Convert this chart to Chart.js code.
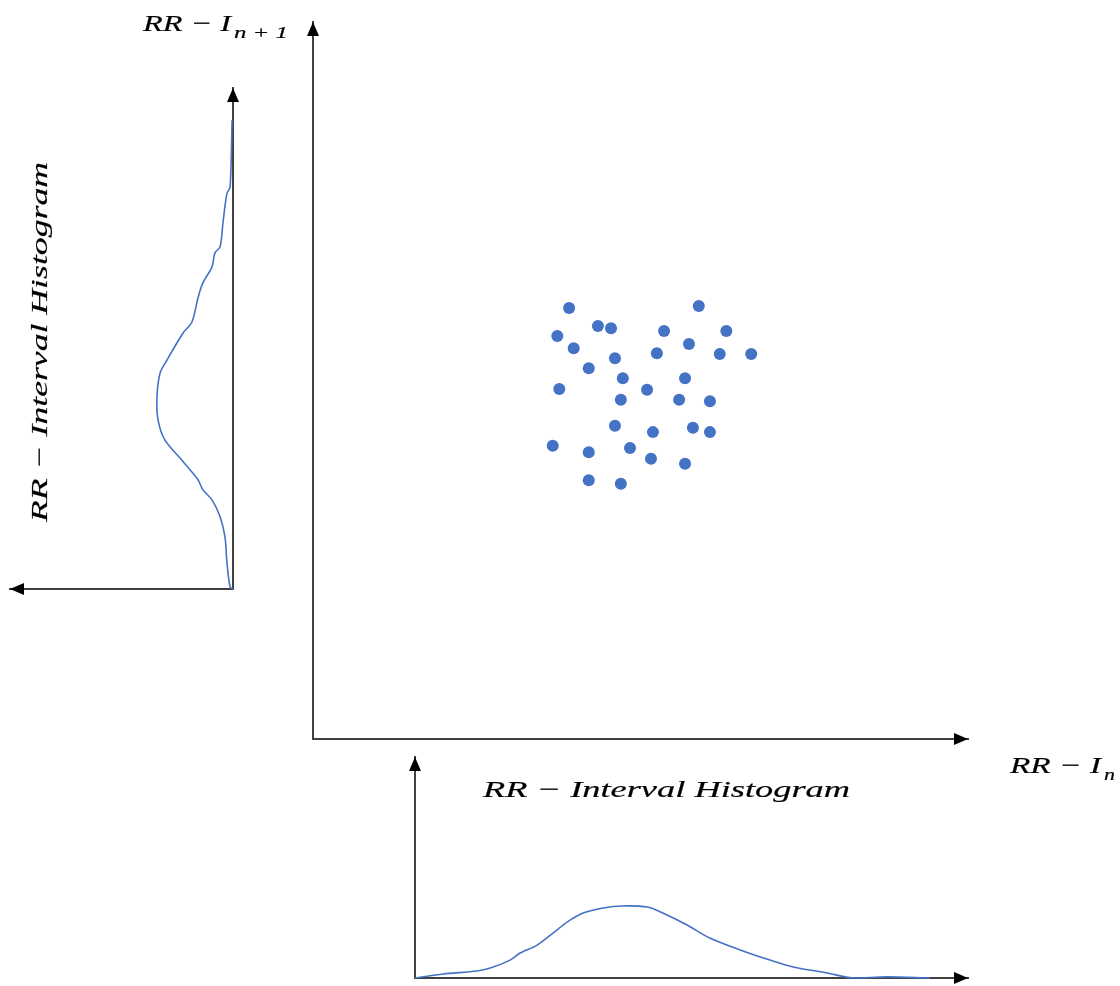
<!DOCTYPE html>
<html>
<head>
<meta charset="utf-8">
<title>RR interval Poincare plot</title>
<script src="https://cdn.jsdelivr.net/npm/chart.js@4.4.1/dist/chart.umd.min.js"></script>
<style>
  html, body { margin: 0; padding: 0; background: #fff; }
  #wrap { position: relative; width: 1120px; height: 986px; }
  #wrap canvas { position: absolute; left: 0; top: 0; }
</style>
</head>
<body>
<div id="wrap">
  <canvas id="scatterChart" width="1120" height="986"></canvas>
  <canvas id="bottomHist" width="1120" height="986"></canvas>
  <canvas id="leftHist" width="1120" height="986"></canvas>
</div>
<script>
// Poincare plot: RR(n) on x, RR(n+1) on y (arbitrary units, 0-100)
const rrN  = [39.1, 58.9, 43.5, 45.5, 53.6, 63.1, 37.3, 57.4, 39.8, 52.5, 62.1, 66.9, 46.1, 42.1, 47.3, 56.8,
              37.6, 51.0, 47.0, 55.9, 60.6, 46.1, 51.9, 58.0, 60.6, 36.6, 48.4, 42.1, 51.6, 56.8, 42.1, 47.0];
const rrN1 = [60.1, 60.4, 57.6, 57.3, 56.9, 56.9, 56.2, 55.1, 54.5, 53.8, 53.7, 53.7, 53.1, 51.7, 50.3, 50.3,
              48.8, 48.7, 47.3, 47.3, 47.1, 43.7, 42.8, 43.4, 42.8, 40.9, 40.6, 40.0, 39.1, 38.4, 36.1, 35.6];

// histogram under the plot
const bottomRR    = [0, 5.1, 11.2, 13.6, 17.2, 19.0, 22.1, 25.0, 27.5, 30.4, 34.0, 37.6, 42.0, 44.8, 49.2,
                     53.3, 58.8, 64.2, 68.4, 74.5, 79.2, 85.4, 93.1];
const bottomCount = [0, 1.8, 3.2, 4.5, 8.1, 11.3, 14.9, 20.4, 25.3, 29.4, 31.7, 32.6, 32.1, 29.4, 24.0,
                     18.1, 12.7, 8.1, 5.0, 2.3, 0, 0.5, 0];

// histogram on the left, drawn sideways (count grows to the left)
const leftRR    = [0, 0.4, 5.2, 10.4, 14.4, 17.8, 19.8, 21.8, 23.8, 25.7, 29.7, 33.7, 38.3, 43.1, 45.7,
                   51.1, 53.3, 58.3, 61.1, 64.3, 67.1, 68.3, 73.1, 79.0, 80.2, 93.6];
const leftCount = [0, 1.3, 2.7, 3.6, 5.8, 9.4, 13.5, 15.7, 19.3, 22.9, 30.5, 33.6, 34.1, 32.7, 29.6,
                   22.4, 18.4, 15.6, 13.5, 9.4, 8.1, 5.8, 4.5, 2.7, 1.3, 0.4];

const blue = '#4472C4';
const axisColor = '#404040';
const W = 1120, H = 986;
const mathFont = 'italic 24px "Liberation Serif"';
const subFont = 'italic 16px "Liberation Serif"';

Chart.defaults.animation = false;
Chart.defaults.events = [];
Chart.defaults.plugins.legend.display = false;
Chart.defaults.plugins.tooltip.enabled = false;

// chart area given as a page box
function box(l, t, r, b) {
  return { left: l, top: t, right: W - r, bottom: H - b };
}

function axis(pos, min, max, reverse) {
  return {
    type: 'linear', position: pos, min: min, max: max, reverse: !!reverse,
    grid: { display: false, drawTicks: false },
    ticks: { display: false },
    border: { display: true, color: axisColor, width: 2 }
  };
}

function head(ctx, x, y, dir) {
  const len = 14, half = 6;
  ctx.beginPath();
  ctx.moveTo(x, y);
  if (dir === 'up') { ctx.lineTo(x - half, y + len); ctx.lineTo(x + half, y + len); }
  if (dir === 'right') { ctx.lineTo(x - len, y - half); ctx.lineTo(x - len, y + half); }
  if (dir === 'left') { ctx.lineTo(x + len, y - half); ctx.lineTo(x + len, y + half); }
  ctx.closePath();
  ctx.fill();
}

// draw text from (0,0) of the current transform, fitted to a width
function fitText(ctx, text, width) {
  const w = ctx.measureText(text).width;
  ctx.save();
  ctx.scale(width / w, 1);
  ctx.textAlign = 'left';
  ctx.textBaseline = 'alphabetic';
  ctx.fillStyle = '#000';
  ctx.strokeStyle = '#000';
  ctx.lineWidth = 0.2;
  ctx.fillText(text, 0, 0);
  ctx.strokeText(text, 0, 0);
  ctx.restore();
}

function mathLabel(ctx, x, y, main, mainW, sub, subW) {
  ctx.save();
  ctx.translate(x, y);
  ctx.font = mathFont;
  fitText(ctx, main, mainW);
  ctx.translate(mainW + 3, 7);
  ctx.font = subFont;
  fitText(ctx, sub, subW);
  ctx.restore();
}

const scatterDeco = {
  id: 'scatterDeco',
  afterDraw(chart) {
    const { ctx, chartArea: a } = chart;
    ctx.save();
    ctx.fillStyle = '#000';
    head(ctx, a.left, a.top, 'up');
    head(ctx, a.right, a.bottom, 'right');
    mathLabel(ctx, 143, 31, 'RR − I', 88, 'n + 1', 54);
    mathLabel(ctx, 1010, 773, 'RR − I', 91, 'n', 11);
    ctx.restore();
  }
};

const bottomDeco = {
  id: 'bottomDeco',
  afterDraw(chart) {
    const { ctx, chartArea: a } = chart;
    ctx.save();
    ctx.fillStyle = '#000';
    head(ctx, a.left, a.top, 'up');
    head(ctx, a.right, a.bottom, 'right');
    ctx.translate(483, 797);
    ctx.font = mathFont;
    fitText(ctx, 'RR − Interval Histogram', 367);
    ctx.restore();
  }
};

const leftDeco = {
  id: 'leftDeco',
  afterDraw(chart) {
    const { ctx, chartArea: a } = chart;
    ctx.save();
    ctx.fillStyle = '#000';
    head(ctx, a.right, a.top, 'up');
    head(ctx, a.left, a.bottom, 'left');
    ctx.translate(47, 522);
    ctx.rotate(-Math.PI / 2);
    ctx.font = mathFont;
    fitText(ctx, 'RR − Interval Histogram', 360);
    ctx.restore();
  }
};

new Chart(document.getElementById('scatterChart'), {
  type: 'scatter',
  data: {
    datasets: [{
      data: rrN.map((v, i) => ({ x: v, y: rrN1[i] })),
      backgroundColor: blue,
      borderWidth: 0,
      pointRadius: 6
    }]
  },
  options: {
    responsive: false,
    layout: { padding: box(313, 22, 968, 739) },
    scales: { x: axis('bottom', 0, 100), y: axis('left', 0, 100) }
  },
  plugins: [scatterDeco]
});

new Chart(document.getElementById('bottomHist'), {
  type: 'scatter',
  data: {
    datasets: [{
      data: bottomRR.map((v, i) => ({ x: v, y: bottomCount[i] })),
      showLine: true,
      borderColor: blue,
      borderWidth: 1.6,
      pointRadius: 0,
      tension: 0.3,
      clip: false
    }]
  },
  options: {
    responsive: false,
    layout: { padding: box(415, 757, 968, 978) },
    scales: { x: axis('bottom', 0, 100), y: axis('left', 0, 100) }
  },
  plugins: [bottomDeco]
});

new Chart(document.getElementById('leftHist'), {
  type: 'scatter',
  data: {
    datasets: [{
      data: leftRR.map((v, i) => ({ x: leftCount[i], y: v })),
      showLine: true,
      borderColor: blue,
      borderWidth: 1.6,
      pointRadius: 0,
      tension: 0.3,
      clip: false
    }]
  },
  options: {
    responsive: false,
    layout: { padding: box(10, 88, 233, 589) },
    scales: { x: axis('bottom', 0, 100, true), y: axis('right', 0, 100) }
  },
  plugins: [leftDeco]
});
</script>
</body>
</html>
